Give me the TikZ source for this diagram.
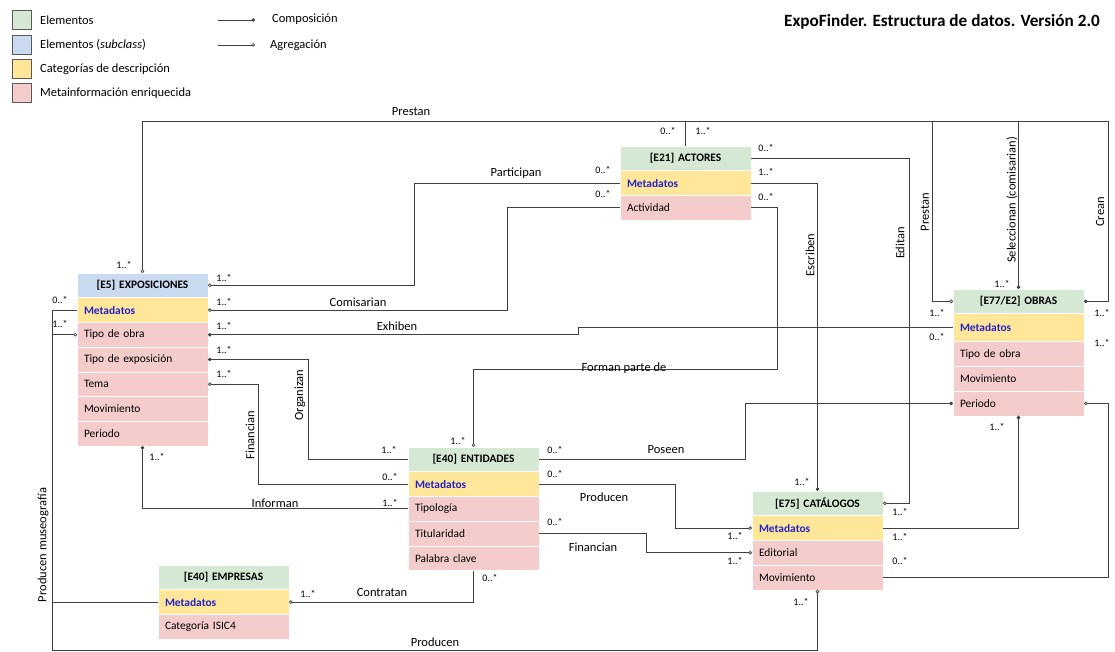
\documentclass[tikz,border=0pt]{standalone}
\usepackage{fontspec}
\setmainfont{Carlito}
\usetikzlibrary{positioning,arrows.meta}

\definecolor{cGreen}{HTML}{D5E8D4}
\definecolor{cBlue}{HTML}{C9DAF0}
\definecolor{cYellow}{HTML}{FFE699}
\definecolor{cPink}{HTML}{F4CCCC}
\definecolor{cMeta}{HTML}{2323C8}
\definecolor{cLine}{HTML}{404040}

\newcommand{\boxfont}{\fontsize{11.4}{13}\selectfont}
\newcommand{\relfont}{\fontsize{12.5}{14}\selectfont}
\newcommand{\multfont}{\fontsize{10}{11}\selectfont}
\newcommand{\titlefont}{\fontsize{17.2}{20}\selectfont\bfseries}

\tikzset{
	row/.style={rectangle, minimum width=131pt, minimum height=24.7pt, inner sep=0pt, outer sep=0pt,
		text width=117pt, align=left, draw=white, line width=0.6pt, font=\boxfont},
	head/.style={row, fill=cGreen, align=center, font=\boxfont\bfseries},
	meta/.style={row, fill=cYellow, text=cMeta, font=\boxfont\bfseries},
	info/.style={row, fill=cPink},
	rel/.style={font=\relfont, inner sep=0pt},
	mult/.style={font=\multfont, inner sep=0pt},
	legbox/.style={rectangle, minimum size=19pt, inner sep=0pt, draw=gray!70!black, line width=0.5pt},
	legtext/.style={anchor=west, inner sep=0pt, font=\relfont},
	link/.style={draw=cLine, line width=0.7pt},
	comp/.style={link, -{Circle[length=3.6pt]}},
	agg/.style={link, -{Circle[open,length=3.6pt]}}
}

\begin{document}
\begin{tikzpicture}[x=1pt, y=-1pt]
	\useasboundingbox (0,0) rectangle (1115,652);

	% leyenda
	\node[legbox, fill=cGreen]  (leg-1) at (22,19.5) {};
	\node[legbox, fill=cBlue]   (leg-2) at (22,44.5) {};
	\node[legbox, fill=cYellow] (leg-3) at (22,69)   {};
	\node[legbox, fill=cPink]   (leg-4) at (22,93)   {};
	\node[legtext] (leg-t1) at (40,20) {Elementos};
	\node[legtext] (leg-t2) at (40,45) {Elementos (\textit{subclass})};
	\node[legtext] (leg-t3) at (40,69) {Categorías de descripción};
	\node[legtext] (leg-t4) at (40,93) {Metainformación enriquecida};
	\coordinate (leg-c1) at (218,20);
	\coordinate (leg-c2) at (255,20);
	\coordinate (leg-a1) at (218,45);
	\coordinate (leg-a2) at (255,45);
	\draw[comp] (leg-c1) -- (leg-c2);
	\draw[agg] (leg-a1) -- (leg-a2);
	\node[legtext] (leg-comp) at (272,19) {Composición};
	\node[legtext] (leg-agr) at (270,45) {Agregación};

	% titulo
	\node[anchor=east, inner sep=0pt, font=\titlefont] (title) at (1100,22) {ExpoFinder. Estructura de datos. Versión 2.0};

	% exposiciones
	\node[head, fill=cBlue, anchor=north west] (expo-h) at (77,273) {[E5] EXPOSICIONES};
	\node[meta, below=0pt of expo-h]  (expo-m)  {Metadatos};
	\node[info, below=0pt of expo-m]  (expo-t)  {Tipo de obra};
	\node[info, below=0pt of expo-t]  (expo-e)  {Tipo de exposición};
	\node[info, below=0pt of expo-e]  (expo-tm) {Tema};
	\node[info, below=0pt of expo-tm] (expo-mv) {Movimiento};
	\node[info, below=0pt of expo-mv] (expo-p)  {Periodo};

	% actores
	\node[head, anchor=north west] (act-h) at (620,146) {[E21] ACTORES};
	\node[meta, below=0pt of act-h] (act-m) {Metadatos};
	\node[info, below=0pt of act-m] (act-a) {Actividad};

	% entidades
	\node[head, anchor=north west] (ent-h) at (408,447) {[E40] ENTIDADES};
	\node[meta, below=0pt of ent-h]  (ent-m)  {Metadatos};
	\node[info, below=0pt of ent-m]  (ent-t)  {Tipología};
	\node[info, below=0pt of ent-t]  (ent-ti) {Titularidad};
	\node[info, below=0pt of ent-ti] (ent-pc) {Palabra clave};

	% catalogos
	\node[head, anchor=north west] (cat-h) at (752,491) {[E75] CATÁLOGOS};
	\node[meta, below=0pt of cat-h] (cat-m)  {Metadatos};
	\node[info, below=0pt of cat-m] (cat-e)  {Editorial};
	\node[info, below=0pt of cat-e] (cat-mv) {Movimiento};

	% obras
	\node[head, anchor=north west] (obr-h) at (953,289) {[E77/E2] OBRAS};
	\node[meta, minimum height=28pt, below=0pt of obr-h] (obr-m) {Metadatos};
	\node[info, below=0pt of obr-m]  (obr-t)  {Tipo de obra};
	\node[info, below=0pt of obr-t]  (obr-mv) {Movimiento};
	\node[info, below=0pt of obr-mv] (obr-p)  {Periodo};

	% empresas
	\node[head, anchor=north west] (emp-h) at (158,565) {[E40] EMPRESAS};
	\node[meta, below=0pt of emp-h] (emp-m) {Metadatos};
	\node[info, below=0pt of emp-m] (emp-c) {Categoría ISIC4};

	% relaciones desde actores
	\coordinate (top) at ([yshift=25pt]act-h.north);
	\draw[link] (act-h.north) -- (top);
	\draw[agg] (top) -| (expo-h.north);
	\draw[agg] (top) -| ([xshift=-21pt]obr-h.west) -- (obr-h.west);
	\draw[comp] (top) -| (obr-h.north);
	\draw[comp] (top) -| ([xshift=24pt]obr-h.east) -- (obr-h.east);
	\draw[agg] (act-m.west) -- ++(-206,0) |- (expo-h.east);
	\draw[agg] (act-a.west) -- ++(-113,0) |- (expo-m.east);
	\draw[agg] (act-a.east) -- ++(26,0) -- ++(0,162) -| (ent-h.north);
	\draw[comp] (act-m.east) -| (cat-h.north);
	\draw[agg] (act-h.east) -- ++(158,0) |- (cat-h.east);

	% relaciones de exposiciones
	\draw[comp] (obr-m.west) -- ++(-375,0) |- (expo-t.east);
	\draw[comp] (ent-h.west) -- ++(-100,0) |- (expo-e.east);
	\draw[agg] (ent-m.west) -- ++(-150,0) |- (expo-tm.east);
	\draw[comp] (ent-t.west) -| (expo-p.south);
	\draw[agg] (emp-m.west) -- ++(-106,0) |- (expo-t.west);
	\draw[agg] (expo-m.west) -- ++(-25,0) -- ++(0,340) -| (cat-mv.south);

	% relaciones de entidades, catalogos y obras
	\draw[comp] (ent-h.east) -- ++(206,0) |- (obr-p.west);
	\draw[agg] (ent-m.east) -- ++(136,0) |- (cat-m.west);
	\draw[agg] (ent-ti.east) -- ++(107,0) |- (cat-e.west);
	\draw[comp] (cat-m.east) -| (obr-p.south);
	\draw[agg] (cat-mv.east) -- ++(225,0) |- (obr-p.east);
	\draw[agg] (ent-pc.south) |- (emp-m.east);

	% nombres de las relaciones
	\node[rel] (r-prestan) at (411,112) {Prestan};
	\node[rel] (r-particip) at (516,173) {Participan};
	\node[rel] (r-comis) at (358,302) {Comisarian};
	\node[rel] (r-exhib) at (397,326) {Exhiben};
	\node[rel] (r-forman) at (624,368) {Forman parte de};
	\node[rel] (r-poseen) at (666,450) {Poseen};
	\node[rel] (r-produc) at (604,497) {Producen};
	\node[rel] (r-financ2) at (593,547) {Financian};
	\node[rel] (r-inform) at (275,503) {Informan};
	\node[rel] (r-contrat) at (382,592) {Contratan};
	\node[rel] (r-produc2) at (435,642) {Producen};
	\node[rel, rotate=90] (r-museo) at (43,545) {Producen museografía};
	\node[rel, rotate=90] (r-financ) at (250,435) {Financian};
	\node[rel, rotate=90] (r-organ) at (300,395) {Organizan};
	\node[rel, rotate=90] (r-escrib) at (810,255) {Escriben};
	\node[rel, rotate=90] (r-editan) at (900,243) {Editan};
	\node[rel, rotate=90] (r-prestan2) at (925,212) {Prestan};
	\node[rel, rotate=90] (r-selecc) at (1012,200) {Seleccionan (comisarian)};
	\node[rel, rotate=90] (r-crean) at (1100,212) {Crean};

	% cardinalidades
	\node[mult] (m-expo-1) at (124,265) {1..*};
	\node[mult] (m-expo-2) at (224,278) {1..*};
	\node[mult] (m-expo-3) at (224,302) {1..*};
	\node[mult] (m-expo-4) at (224,326) {1..*};
	\node[mult] (m-expo-5) at (224,350) {1..*};
	\node[mult] (m-expo-6) at (224,374) {1..*};
	\node[mult] (m-expo-7) at (60,300) {0..*};
	\node[mult] (m-expo-8) at (60,324) {1..*};
	\node[mult] (m-expo-9) at (157,457) {1..*};
	\node[mult] (m-act-1) at (668,131) {0..*};
	\node[mult] (m-act-2) at (703,131) {1..*};
	\node[mult] (m-act-3) at (603,170) {0..*};
	\node[mult] (m-act-4) at (603,194) {0..*};
	\node[mult] (m-act-5) at (766,148) {0..*};
	\node[mult] (m-act-6) at (766,172) {1..*};
	\node[mult] (m-act-7) at (766,197) {0..*};
	\node[mult] (m-ent-1) at (458,441) {1..*};
	\node[mult] (m-ent-2) at (389,450) {1..*};
	\node[mult] (m-ent-3) at (390,477) {0..*};
	\node[mult] (m-ent-4) at (390,503) {1..*};
	\node[mult] (m-ent-5) at (555,450) {0..*};
	\node[mult] (m-ent-6) at (555,474) {0..*};
	\node[mult] (m-ent-7) at (555,522) {0..*};
	\node[mult] (m-ent-8) at (490,578) {0..*};
	\node[mult] (m-cat-1) at (802,482) {1..*};
	\node[mult] (m-cat-2) at (900,512) {1..*};
	\node[mult] (m-cat-3) at (900,537) {1..*};
	\node[mult] (m-cat-4) at (900,561) {0..*};
	\node[mult] (m-cat-5) at (735,536) {1..*};
	\node[mult] (m-cat-6) at (735,561) {1..*};
	\node[mult] (m-cat-7) at (801,602) {1..*};
	\node[mult] (m-obr-1) at (1002,284) {1..*};
	\node[mult] (m-obr-2) at (937,313) {1..*};
	\node[mult] (m-obr-3) at (937,337) {0..*};
	\node[mult] (m-obr-4) at (1102,313) {1..*};
	\node[mult] (m-obr-5) at (1102,343) {1..*};
	\node[mult] (m-obr-6) at (997,427) {1..*};
	\node[mult] (m-emp-1) at (308,594) {1..*};
\end{tikzpicture}
\end{document}
